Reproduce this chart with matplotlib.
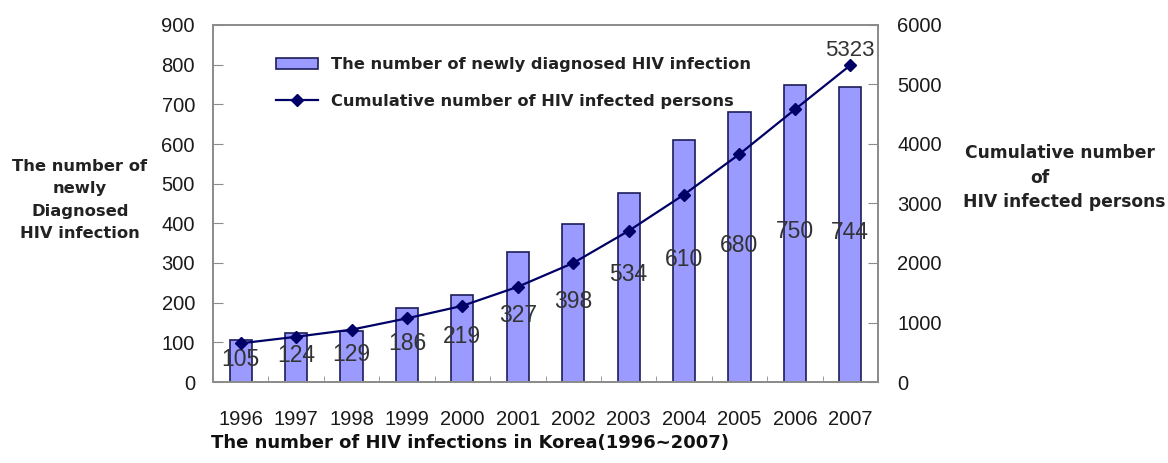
import matplotlib
matplotlib.use("Agg")
import matplotlib.pyplot as plt
from matplotlib.ticker import FixedLocator, NullFormatter

years = ["1996", "1997", "1998", "1999", "2000", "2001", "2002", "2003", "2004", "2005", "2006", "2007"]
new_cases = [105, 124, 129, 186, 219, 327, 398, 476, 610, 680, 750, 744]
new_case_labels = [105, 124, 129, 186, 219, 327, 398, 534, 610, 680, 750, 744]
cumulative = [650, 760, 880, 1070, 1280, 1600, 2000, 2540, 3150, 3830, 4580, 5323]
left_ticks = [0, 100, 200, 300, 400, 500, 600, 700, 800, 900]
right_ticks = [0, 1000, 2000, 3000, 4000, 5000, 6000]

bar_color = "#9a9aff"
edge_color = "#1c1c5a"
line_color = "#000066"
spine_color = "#8c8c8c"
num_font = "Liberation Sans"
txt_font = "DejaVu Sans"

fig = plt.figure(figsize=(11.68, 4.63), dpi=100)
ax = fig.add_axes([213 / 1168, 81 / 463, 665 / 1168, 357 / 463])
ax2 = ax.twinx()

x = list(range(len(years)))
bars = ax.bar(x, new_cases, width=0.4, color=bar_color, edgecolor=edge_color,
              linewidth=1.2, label="The number of newly diagnosed HIV infection", zorder=2)
line, = ax2.plot(x, cumulative, color=line_color, lw=1.6, marker="D", markersize=6,
                 label="Cumulative number of HIV infected persons", zorder=3)

ax.set_xlim(-0.5, len(years) - 0.5)
ax.set_ylim(0, 900)
ax2.set_ylim(0, 6000)

ax.set_xticks(x)
ax.set_xticklabels(years, fontfamily=num_font, fontsize=14.5, color="#1a1a1a")
ax.xaxis.set_minor_locator(FixedLocator([i + 0.5 for i in range(len(years) - 1)]))
ax.xaxis.set_minor_formatter(NullFormatter())
ax.tick_params(axis="x", which="major", length=0, pad=20)
ax.tick_params(axis="x", which="minor", direction="in", length=4, color=spine_color)

ax.set_yticks(left_ticks)
ax.set_yticklabels([str(v) for v in left_ticks], fontfamily=num_font, fontsize=14.5, color="#1a1a1a")
ax.tick_params(axis="y", direction="in", length=7, pad=13, color=spine_color)
ax2.set_yticks(right_ticks)
ax2.set_yticklabels([str(v) for v in right_ticks], fontfamily=num_font, fontsize=14.5, color="#1a1a1a")
ax2.tick_params(axis="y", direction="in", length=7, pad=14, color=spine_color)

for a in (ax, ax2):
    for s in a.spines.values():
        s.set_color(spine_color)
        s.set_linewidth(1.3)

ax.set_zorder(1)
ax2.set_zorder(2)
ax2.patch.set_visible(False)

for xi, lab in zip(x, new_case_labels):
    ax.text(xi, lab / 2 + 4, str(lab), ha="center", va="center", fontfamily=num_font,
            fontsize=16.5, color="#333333", zorder=4)
ax2.annotate(str(cumulative[-1]), (x[-1], cumulative[-1]), xytext=(0, 11),
             textcoords="offset points", ha="center", va="center",
             fontfamily=num_font, fontsize=16, color="#333333")

leg = ax2.legend([bars, line], [bars.get_label(), line.get_label()],
                 loc="upper left", bbox_to_anchor=(0.072, 0.95), frameon=False,
                 prop={"family": txt_font, "size": 11.7, "weight": "bold"},
                 handlelength=2.6, handletextpad=0.8, labelspacing=1.3)
for t in leg.get_texts():
    t.set_color("#222222")

fig.text(80 / 1168, 1 - 200 / 463, "The number of\nnewly\nDiagnosed\nHIV infection",
         ha="center", va="center", fontfamily=txt_font, fontsize=11.8,
         fontweight="bold", color="#222222", linespacing=1.6)
fig.text(1060 / 1168, 1 - 153 / 463, "Cumulative number",
         ha="center", va="center", fontfamily=txt_font, fontsize=12.3,
         fontweight="bold", color="#222222")
fig.text(1040 / 1168, 1 - 178 / 463, "of",
         ha="center", va="center", fontfamily=txt_font, fontsize=12.3,
         fontweight="bold", color="#222222")
fig.text(1064 / 1168, 1 - 202 / 463, "HIV infected persons",
         ha="center", va="center", fontfamily=txt_font, fontsize=12.3,
         fontweight="bold", color="#222222")
fig.text(470 / 1168, 1 - 443 / 463, "The number of HIV infections in Korea(1996~2007)",
         ha="center", va="center", fontfamily=txt_font, fontsize=13,
         fontweight="bold", color="#111111")

fig.savefig("out.png", dpi=100)
